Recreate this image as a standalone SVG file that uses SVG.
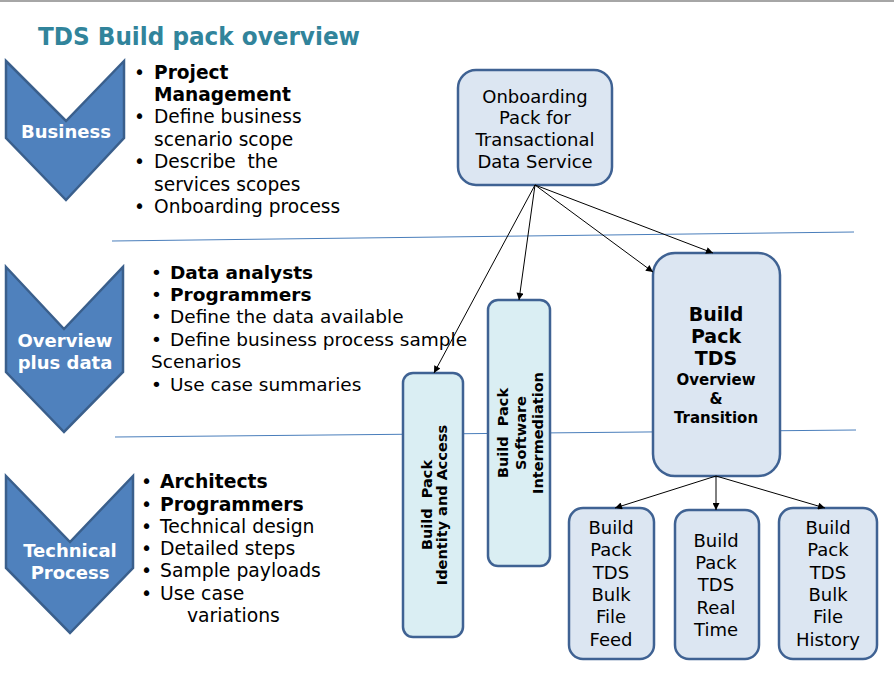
<svg xmlns="http://www.w3.org/2000/svg" width="894" height="675" viewBox="0 0 894 675">
<defs>
<marker id="ah" viewBox="0 0 10 10" refX="10" refY="5" markerWidth="9" markerHeight="7" markerUnits="userSpaceOnUse" orient="auto">
<path d="M0,0 L10,5 L0,10 z" fill="#000"/>
</marker>
<style>
text{font-family:"DejaVu Sans",Verdana,sans-serif;}
.chev{fill:#4F81BD;stroke:#3A5F8C;stroke-width:2.5;stroke-linejoin:miter;}
.chevt{fill:#fff;font-weight:bold;font-size:18px;text-anchor:middle;}
.b1{font-size:18.6px;fill:#000;}
.b2{font-size:18.5px;fill:#000;}
.b3{font-size:18.8px;fill:#000;}
.bold{font-weight:bold;}
.box{fill:#DCE6F2;stroke:#3F6293;stroke-width:2.5;}
.box2{fill:#DAEEF3;stroke:#3F6293;stroke-width:2.5;}
.nt{font-size:18px;text-anchor:middle;fill:#000;}
.rt{font-size:14.5px;font-weight:bold;text-anchor:middle;fill:#000;}
.sep{stroke:#4A7EBB;stroke-width:1;fill:none;}
.conn{stroke:#000;stroke-width:1;fill:none;marker-end:url(#ah);}
</style>
</defs>
<rect x="0" y="0" width="894" height="675" fill="#fff"/>
<rect x="0" y="0" width="894" height="2" fill="#A6A6A6"/>
<text x="38" y="45" font-size="25" font-weight="bold" fill="#31849B" textLength="322" lengthAdjust="spacingAndGlyphs">TDS Build pack overview</text>

<g id="separators">
<line class="sep" x1="112" y1="241" x2="854" y2="232"/>
<line class="sep" x1="115" y1="437" x2="856" y2="430"/>
</g>

<g id="chevron-business">
<polygon class="chev" points="6,61 66,121 124,61 124,138 66,200 6,138"/>
<text class="chevt" x="66" y="138">Business</text>
</g>
<g id="chevron-overview">
<polygon class="chev" points="6,267 64,329 123,267 123,372 64,432 6,372"/>
<text class="chevt" x="65" y="347">Overview</text>
<text class="chevt" x="65" y="369">plus data</text>
</g>
<g id="chevron-technical">
<polygon class="chev" points="6,476 70,542 133,476 133,568 70,633 6,568"/>
<text class="chevt" x="70" y="557">Technical</text>
<text class="chevt" x="70" y="579">Process</text>
</g>

<g id="bullets-business" class="b1">
<text x="134" y="79">•</text><text x="154" y="79" class="bold">Project</text>
<text x="154" y="101" class="bold">Management</text>
<text x="134" y="123">•</text><text x="154" y="123">Define business</text>
<text x="154" y="146">scenario scope</text>
<text x="134" y="168">•</text><text x="154" y="168" xml:space="preserve">Describe  the</text>
<text x="154" y="191">services scopes</text>
<text x="134" y="213">•</text><text x="154" y="213">Onboarding process</text>
</g>

<g id="bullets-overview" class="b2">
<text x="151" y="279">•</text><text x="170" y="279" class="bold">Data analysts</text>
<text x="151" y="301">•</text><text x="170" y="301" class="bold">Programmers</text>
<text x="151" y="323">•</text><text x="170" y="323">Define the data available</text>
<text x="151" y="346">•</text><text x="170" y="346">Define business process sample</text>
<text x="151" y="368">Scenarios</text>
<text x="151" y="391">•</text><text x="170" y="391">Use case summaries</text>
</g>

<g id="bullets-technical" class="b3">
<text x="141" y="488">•</text><text x="160" y="488" class="bold">Architects</text>
<text x="141" y="511">•</text><text x="160" y="511" class="bold">Programmers</text>
<text x="141" y="533">•</text><text x="160" y="533">Technical design</text>
<text x="141" y="555">•</text><text x="160" y="555">Detailed steps</text>
<text x="141" y="577">•</text><text x="160" y="577">Sample payloads</text>
<text x="141" y="600">•</text><text x="160" y="600">Use case</text>
<text x="187" y="622">variations</text>
</g>

<g id="node-onboarding">
<rect class="box" x="458" y="70" width="154" height="115" rx="18"/>
<text class="nt" x="535" y="103">Onboarding</text>
<text class="nt" x="535" y="124">Pack for</text>
<text class="nt" x="535" y="146">Transactional</text>
<text class="nt" x="535" y="168">Data Service</text>
</g>

<g id="node-identity">
<rect class="box2" x="403" y="373" width="60" height="264" rx="10"/>
<text class="rt" transform="translate(432,505) rotate(-90)"><tspan x="0" y="0">Build&#160; Pack</tspan><tspan x="0" y="15">Identity and Access</tspan></text>
</g>

<g id="node-software">
<rect class="box2" x="488" y="300" width="62" height="266" rx="10"/>
<text class="rt" transform="translate(508,433) rotate(-90)"><tspan x="0" y="0">Build&#160; Pack</tspan><tspan x="0" y="17.5">Software</tspan><tspan x="0" y="35">Intermediation</tspan></text>
</g>

<g id="node-tds">
<rect class="box" x="653" y="253" width="127" height="223" rx="22"/>
<text x="716" y="321" font-size="19" font-weight="bold" text-anchor="middle">Build</text>
<text x="716" y="343" font-size="19" font-weight="bold" text-anchor="middle">Pack</text>
<text x="716" y="365" font-size="19" font-weight="bold" text-anchor="middle">TDS</text>
<text x="716" y="385" font-size="15" font-weight="bold" text-anchor="middle">Overview</text>
<text x="716" y="404" font-size="15" font-weight="bold" text-anchor="middle">&amp;</text>
<text x="716" y="423" font-size="15" font-weight="bold" text-anchor="middle">Transition</text>
</g>

<g id="node-feed">
<rect class="box" x="569" y="508" width="85" height="151" rx="14"/>
<text class="nt" x="611" y="534">Build</text>
<text class="nt" x="611" y="556">Pack</text>
<text class="nt" x="611" y="579">TDS</text>
<text class="nt" x="611" y="601">Bulk</text>
<text class="nt" x="611" y="623">File</text>
<text class="nt" x="611" y="646">Feed</text>
</g>

<g id="node-realtime">
<rect class="box" x="675" y="510" width="84" height="149" rx="14"/>
<text class="nt" x="716" y="547">Build</text>
<text class="nt" x="716" y="569">Pack</text>
<text class="nt" x="716" y="591">TDS</text>
<text class="nt" x="716" y="614">Real</text>
<text class="nt" x="716" y="636">Time</text>
</g>

<g id="node-history">
<rect class="box" x="779" y="508" width="98" height="151" rx="14"/>
<text class="nt" x="828" y="534">Build</text>
<text class="nt" x="828" y="556">Pack</text>
<text class="nt" x="828" y="579">TDS</text>
<text class="nt" x="828" y="601">Bulk</text>
<text class="nt" x="828" y="623">File</text>
<text class="nt" x="828" y="646">History</text>
</g>

<g id="connectors">
<line class="conn" x1="535" y1="185" x2="434" y2="373"/>
<line class="conn" x1="535" y1="185" x2="519" y2="300"/>
<line class="conn" x1="535" y1="185" x2="653" y2="272"/>
<line class="conn" x1="535" y1="185" x2="713" y2="253"/>
<line class="conn" x1="716" y1="476" x2="615" y2="508"/>
<line class="conn" x1="716" y1="476" x2="716" y2="510"/>
<line class="conn" x1="716" y1="476" x2="825" y2="508"/>
</g>
</svg>
